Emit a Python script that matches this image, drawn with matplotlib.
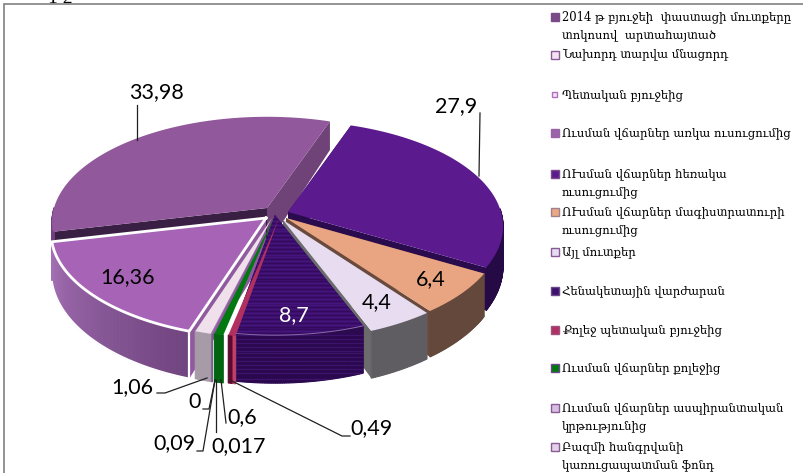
import numpy as np
import matplotlib
matplotlib.use("Agg")
import matplotlib.pyplot as plt
from matplotlib.patches import Polygon, Rectangle
from matplotlib.colors import to_rgb

W, H = 804, 473

# slices in clockwise order, from the top of the pie
slice_values = [27.9, 6.4, 4.4, 8.7, 0.49, 0.6, 0.017, 0.09, 0.0, 1.06, 16.36, 33.98]
slice_labels = ["27,9", "6,4", "4,4", "8,7", "0,49", "0,6", "0,017", "0,09", "0", "1,06", "16,36", "33,98"]
top_colors = ["#5c1a8f", "#e9a581", "#e8dcf0", "#3d0f6e", "#b0305f", "#007a10", "#a070b0",
              "#9a70b0", "#e6cfe6", "#efe0ec", "#a763b6", "#91589c"]
# outer wall colour at the start and at the end of each slice
side_start = ["#260a45", "#64483c", "#5f5c62", "#2c0a50", "#c0406c", "#006410", "#806090",
              "#7a5a90", "#a89ba8", "#a89ba8", "#70447f", "#6f3f80"]
side_end = ["#260a45", "#64483c", "#5f5c62", "#2c0a50", "#5c0a30", "#006410", "#806090",
            "#7a5a90", "#a89ba8", "#a89ba8", "#a470b4", "#6f3f80"]
# radial walls, start and end, the thin slices show none
wall_start = ["#260a45", "#64483c", "#6b6b6e", "#2c0a50", None, None, None,
              None, None, None, "#8f5a9e", "#3a1f45"]
wall_end = ["#2a0c4e", "#6b4a3e", "#6b6b6e", "#2c0a50", None, None, None,
            None, None, None, "#8f5a9e", "#6f4278"]

legend_labels = [
    "2014 թ բյուջեի  փաստացի մուտքերը\nտոկոսով  արտահայտած",
    "Նախորդ տարվա մնացորդ",
    "Պետական բյուջեից",
    "Ուսման վճարներ առկա ուսուցումից",
    "ՈՒսման վճարներ հեռակա\nուսուցումից",
    "ՈՒսման վճարներ մագիստրատուրի\nուսուցումից",
    "Այլ մուտքեր",
    "Հենակետային վարժարան",
    "Քոլեջ պետական բյուջեից",
    "Ուսման վճարներ քոլեջից",
    "Ուսման վճարներ ասպիրանտական\nկրթությունից",
    "Բազմի հանգրվանի\nկառուցապատման ֆոնդ",
]
legend_colors = ["#7b4a88", "#f3e3ee", "#f3e3f5", "#9a62a8", "#5c1a8f", "#eba981",
                 "#e8dcf0", "#3d0f6e", "#b0305f", "#007a10", "#d6bfe0", "#e2d2e6"]
legend_edges = ["#7b4a88", "#8a5a98", "#b070c0", "#9a62a8", "#7b4a88", "#a08090",
                "#8a5a98", "#6a4a88", "#a05080", "#6a4a88", "#8a5a98", "#8a5a98"]
legend_y = [17, 55, 95, 133, 174, 212, 252, 291, 330, 368, 408, 447]
legend_size = [8, 8, 5, 8, 8, 8, 8, 8, 8, 8, 8, 8]

# the pie is a perspective view: k makes the front bigger than the back
rx, ry, k = 213, 103.7, 0.137
start = 19.5
# tip of each slice on the picture, the slices are pulled apart
tips = [(288, 212), (286, 218), (283, 220), (275, 215), (279, 218), (274, 218), (272, 218),
        (272, 218), (272, 218), (272, 218), (266, 218), (267, 208)]
# back to front
draw_order = [11, 0, 1, 10, 2, 3, 4, 5, 6, 7, 8, 9]


def project(t, tip):
    a = np.radians(t)
    u, v = np.sin(a), -np.cos(a)
    w = 1 - k * v
    return tip[0] + rx * u / w, tip[1] + ry * v / w


def depth(t):
    # walls look shorter at the back
    return 38 - 10 * np.cos(np.radians(t))


fig = plt.figure(figsize=(W / 100, H / 100), dpi=100)
ax = fig.add_axes([0, 0, 1, 1])
ax.set_xlim(0, W)
ax.set_ylim(H, 0)
ax.axis("off")

ax.add_patch(Rectangle((4.5, 4.5), W, H, fc="white", ec="#808080", lw=1.2))
ax.text(60, 3, "1 2", fontsize=14, ha="center", va="baseline", family="Liberation Serif")

edges = start + np.cumsum([0] + slice_values) * 3.6

for i in draw_order:
    t0, t1 = edges[i], edges[i + 1]
    if t1 - t0 < 0.01:
        continue
    tip = tips[i]
    ts = np.linspace(t0, t1, max(3, int(t1 - t0) * 2))
    x, y = project(ts, tip)
    d = depth(ts)
    # radial walls first, then the outer wall in strips
    if wall_start[i]:
        ax.add_patch(Polygon([tip, (x[0], y[0]), (x[0], y[0] + d[0]), (tip[0], tip[1] + 38)],
                             fc=wall_start[i], ec="none"))
        ax.add_patch(Polygon([tip, (x[-1], y[-1]), (x[-1], y[-1] + d[-1]), (tip[0], tip[1] + 38)],
                             fc=wall_end[i], ec="none"))
    c0, c1 = np.array(to_rgb(side_start[i])), np.array(to_rgb(side_end[i]))
    for j in range(len(ts) - 1):
        if ts[j] % 360 < 88 or ts[j] % 360 > 270:
            continue
        c = c0 + (c1 - c0) * j / max(1, len(ts) - 2)
        ax.add_patch(Polygon([(x[j], y[j]), (x[j + 1], y[j + 1]),
                              (x[j + 1], y[j + 1] + d[j + 1]), (x[j], y[j] + d[j])],
                             fc=c, ec=c, lw=0.8))
    top = Polygon(np.r_[[tip], np.c_[x, y]], fc=top_colors[i], ec="none")
    ax.add_patch(top)
    if i == 3:
        # woven look of this slice, on the top and on the wall
        wall = Polygon(np.r_[np.c_[x, y], np.c_[x, y + d][::-1]], transform=ax.transData)
        for row in range(215, 390, 2):
            shade = "#2a0850" if np.sin(row * 1.7) > 0 else "#4c1a86"
            line, = ax.plot([225, 375], [row, row], color=shade, lw=0.8, alpha=0.55, zorder=1)
            line.set_clip_path(top if row < 335 else wall)
        ax.plot(x, y, color="#8a6aa8", lw=0.7, zorder=1)
    if i == 10:
        # this slice has a white outline
        ax.plot(np.r_[tip[0], x, tip[0]], np.r_[tip[1], y, tip[1]], color="white", lw=2, zorder=1)
        ax.plot(x, y + d, color="white", lw=1.6, zorder=1)
        ax.plot([x[0], x[0]], [y[0], y[0] + d[0]], color="white", lw=1.6, zorder=1)

# value labels
label_xy = [(456, 106), (431, 279), (377, 302), (294, 315), (372, 428), (242, 417), (239, 446),
            (174, 443), (195, 402), (132, 387), (128, 277), (156, 92)]
label_colors = ["black", "black", "black", "white", "black", "black", "black", "black", "black",
                "black", "black", "black"]
for lab, (lx, ly), col in zip(slice_labels, label_xy, label_colors):
    ax.text(lx, ly, lab, fontsize=15.5, color=col, ha="center", va="center", family="Lato")

# leader lines
leaders = [([480, 479], [113, 176]), ([137, 137], [105, 140]),
           ([157, 165, 207], [393, 393, 378]), ([203, 209, 215], [409, 409, 380]),
           ([226, 221], [423, 380]), ([197, 203, 215], [451, 451, 380]),
           ([216, 216], [432, 380]), ([350, 342, 232], [436, 436, 381])]
for lx, ly in leaders:
    ax.plot(lx, ly, color="#202020", lw=0.9)

# legend
for lab, col, ecol, ly, s in zip(legend_labels, legend_colors, legend_edges, legend_y, legend_size):
    ax.add_patch(Rectangle((555 - s / 2, ly - s / 2), s, s, fc=col, ec=ecol, lw=1))
    ax.text(562, ly - 7, lab, fontsize=8.35, va="top", ha="left", family="DejaVu Serif", linespacing=1.5)

fig.savefig("out.png", dpi=100)
